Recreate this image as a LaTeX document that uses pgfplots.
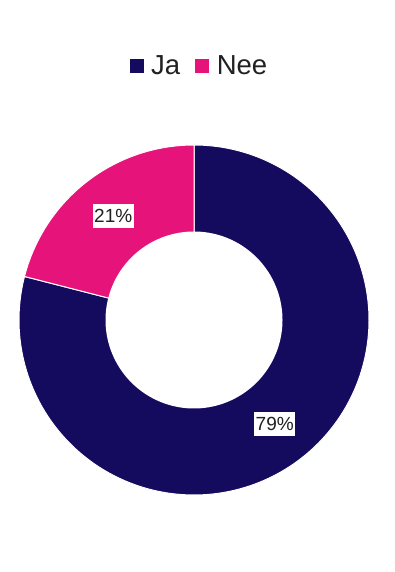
\documentclass[border=0pt]{standalone}
\usepackage{pgfplots}
\pgfplotsset{compat=1.18}
\usepackage{pgfplotstable}
\usepackage{fontspec}
\setmainfont{Liberation Sans}
\definecolor{ja}{HTML}{140A5E}
\definecolor{nee}{HTML}{E6137B}
\definecolor{txt}{HTML}{212121}
\pgfplotstableread{
label value
Ja 79
Nee 21
}\piedata
\begin{document}
\begin{tikzpicture}
\pgfplotstablegetelem{0}{value}\of\piedata \let\vJa\pgfplotsretval
\pgfplotstablegetelem{1}{value}\of\piedata \let\vNee\pgfplotsretval
\pgfmathsetmacro\aMid{90-3.6*\vJa}
\pgfmathsetmacro\aEnd{\aMid-3.6*\vNee}
\pgfmathsetmacro\mJa{90-1.8*\vJa}
\pgfmathsetmacro\mNee{\aMid-1.8*\vNee}
\begin{axis}[
  x=1pt, y=1pt, xmin=0, xmax=394, ymin=0, ymax=572,
  hide axis, clip=false,
  legend columns=-1,
  legend image code/.code={\fill[#1, draw=none] (0pt,-7pt) rectangle (14pt,7pt); \path (19pt,0pt);},
  legend style={
    at={(0.5063,0.8846)}, anchor=center, draw=none, fill=none,
    font=\fontsize{27.5}{32}\selectfont, text=txt,
    /tikz/every even column/.append style={column sep=13pt},
  },
  legend cell align=left,
]
\path (axis cs:0,0) rectangle (axis cs:394,572);
\addplot[fill=ja, draw=white, line width=1pt, domain=\aMid:90, samples=181, variable=\t]
  ({194+175*cos(\t)},{252+175*sin(\t)}) -- (194,252) -- cycle;
\addlegendentry{Ja}
\addplot[fill=nee, draw=white, line width=1pt, domain=\aEnd:\aMid, samples=61, variable=\t]
  ({194+175*cos(\t)},{252+175*sin(\t)}) -- (194,252) -- cycle;
\addlegendentry{Nee}
\addplot[fill=white, draw=none, domain=0:360, samples=181, variable=\t, forget plot]
  ({194+88.5*cos(\t)},{252+88.5*sin(\t)}) -- cycle;
\node[fill=white, inner xsep=1.5pt, inner ysep=5pt, text=txt, font=\fontsize{19}{21}\selectfont]
  at (axis cs:{194+131.75*cos(\mJa)},{252+131.75*sin(\mJa)}) {\vJa\%};
\node[fill=white, inner xsep=1.5pt, inner ysep=5pt, text=txt, font=\fontsize{19}{21}\selectfont]
  at (axis cs:{194+131.75*cos(\mNee)},{252+131.75*sin(\mNee)}) {\vNee\%};
\end{axis}
\end{tikzpicture}
\end{document}
